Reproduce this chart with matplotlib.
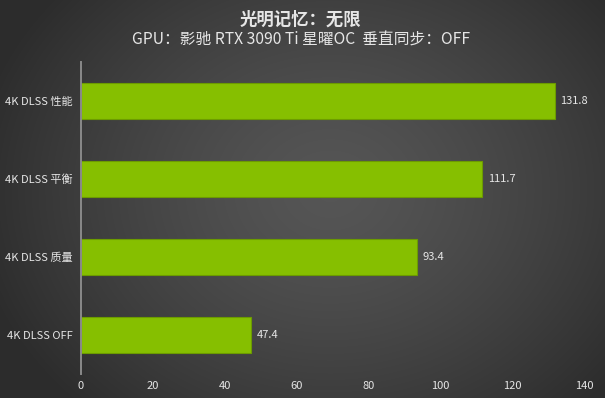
import matplotlib
matplotlib.use("Agg")
import matplotlib.pyplot as plt
import numpy as np

plt.rcParams["font.family"] = ["Noto Sans CJK SC", "DejaVu Sans"]

TITLE    = "光明记忆：无限"
SUBTITLE = "GPU：影驰 RTX 3090 Ti 星曜OC  垂直同步：OFF"
settings = ["4K DLSS OFF", "4K DLSS 质量", "4K DLSS 平衡", "4K DLSS 性能"]
fps      = [47.4, 93.4, 111.7, 131.8]
xticks   = [0, 20, 40, 60, 80, 100, 120, 140]

GREEN = "#86bf00"
EDGE  = "#6c9b00"
TXT   = "#e6e6e6"

fig = plt.figure(figsize=(6.05, 3.98), dpi=100)

# radial grey backdrop
bg = fig.add_axes([0, 0, 1, 1], zorder=-10)
yy, xx = np.mgrid[0:398, 0:605]
r = np.sqrt(((xx - 330) / 360.0) ** 2 + ((yy - 190) / 300.0) ** 2)
r = np.clip(r, 0, 1)
shade = 0.335 - 0.16 * r ** 1.4
bg.imshow(np.dstack([shade] * 3), aspect="auto", extent=[0, 1, 0, 1])
bg.axis("off")

ax = fig.add_axes([0.1339, 0.0603, 0.8314, 0.7839])
ax.patch.set_alpha(0)
y = np.arange(len(settings))
bars = ax.barh(y, fps, height=0.46, color=GREEN, edgecolor=EDGE, linewidth=0.8)
for bar, val in zip(bars, fps):
    ax.text(bar.get_width() + 1.6, bar.get_y() + bar.get_height() / 2,
            f"{val:.1f}", va="center", ha="left", fontsize=8, color=TXT)

ax.set_xlim(0, 140)
ax.set_ylim(-0.5, 3.5)
ax.set_xticks(xticks)
ax.set_yticks(y)
ax.set_yticklabels(settings)
ax.tick_params(axis="both", length=0, labelsize=8, colors=TXT)
ax.tick_params(axis="y", pad=6)
ax.tick_params(axis="x", pad=5)
for s in ["top", "right", "bottom"]:
    ax.spines[s].set_visible(False)
ax.spines["left"].set_color("#8a8a8a")
ax.spines["left"].set_linewidth(1.4)

fig.text(0.497, 0.952, TITLE, ha="center", va="center", fontsize=12.5,
         fontweight="bold", color=TXT)
fig.text(0.497, 0.900, SUBTITLE, ha="center", va="center", fontsize=11.3,
         color=TXT)

plt.savefig("out.png", dpi=100)
plt.close()
